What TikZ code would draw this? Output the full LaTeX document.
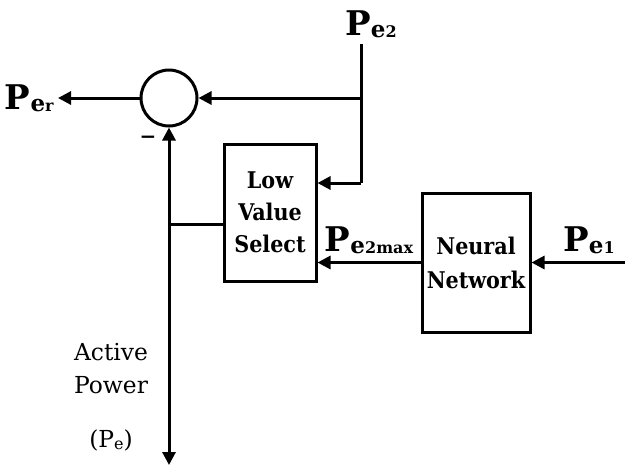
\documentclass[tikz,border=0pt]{standalone}
\usepackage{fontspec}
\setmainfont{DejaVu Serif}
\newfontfamily\boxfont{DejaVu Serif Condensed}
\usetikzlibrary{arrows.meta,positioning,calc}
\tikzset{
  blk/.style={rectangle,draw,line width=1.5pt,align=center,inner sep=2pt,
    font=\boxfont\bfseries\fontsize{11.5}{16}\selectfont},
  sumc/.style={circle,draw,line width=1.5pt,minimum size=28pt,inner sep=0pt},
  sig/.style={font=\bfseries\fontsize{17}{17}\selectfont,inner sep=1pt},
  arr/.style={-{Triangle[length=6.5pt,width=6.5pt]},line width=1.5pt},
  wire/.style={line width=1.5pt}
}
\newcommand{\psig}[1]{P\raisebox{-1pt}{\fontsize{11.5}{12}\selectfont e\fontsize{8}{8}\selectfont #1}}

\begin{document}
\begin{tikzpicture}[x=0.5pt,y=-0.5pt]
  \useasboundingbox (0,0) rectangle (625,468);
  % blocks
  \node[sumc] (sum) at (169,98) {};
  \node[blk,minimum width=46pt,minimum height=68.5pt] (lvs) at (270,212.5) {Low\\Value\\Select};
  \node[blk,minimum width=54pt,minimum height=69.5pt,font=\boxfont\bfseries\fontsize{11.5}{17}\selectfont] (nn) at (476,262.5) {Neural\\Network};
  % wire points
  \coordinate (out) at (58,98);
  \coordinate (jn) at (361,98);
  \coordinate (top) at (361,44);
  \coordinate (jn2) at (361,183);
  \coordinate (tap) at (169,224);
  \coordinate (bot) at (169,465);
  \coordinate (in1) at (625,262.5);
  % labels
  \node[sig,left=1pt of out] (per) {\psig{r}};
  \node[sig,above=2pt of top,xshift=5pt] (pe2) {\psig{2}};
  \node[sig] (pe2max) at (369,240) {\psig{2max}};
  \node[sig] (pe1) at (589,240) {\psig{1}};
  \node[font=\bfseries\fontsize{10}{10}\selectfont] (minus) at (148,140) {−};
  \node[align=center,font=\fontsize{11.7}{16.5}\selectfont] (pe) at (111,397) {Active\\Power\\[10.5pt](P\raisebox{-1pt}{\fontsize{8}{8}\selectfont e})};
  % connectors
  \draw[arr] (sum) -- (out);
  \draw[arr] (jn) -- (sum);
  \draw[wire] (top) -- (jn2);
  \draw[arr] (jn2) -- (jn2 -| lvs.east);
  \draw[arr] (nn.west) -- (nn.west -| lvs.east);
  \draw[arr] (in1) -- (nn.east);
  \draw[arr] (tap) -- (bot);
  \draw[arr] (tap) -- (sum.south);
  \draw[wire] (tap) -- (tap -| lvs.west);
\end{tikzpicture}
\end{document}
